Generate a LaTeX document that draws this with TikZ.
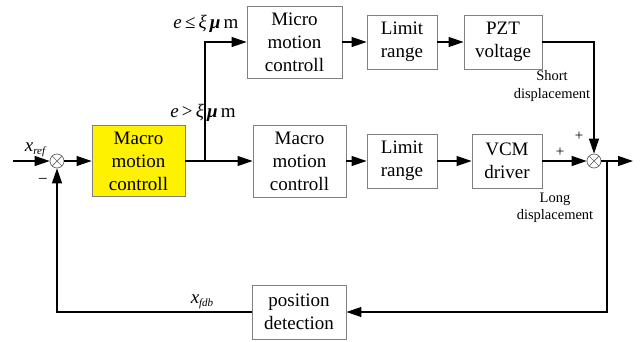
\documentclass[tikz,border=0pt]{standalone}
\usepackage{fontspec}
\setmainfont{Liberation Serif}
\newfontfamily\tnr{Liberation Serif}
\usetikzlibrary{arrows.meta}
\begin{document}
\begin{tikzpicture}[x=1pt,y=-1pt,
  blk/.style={draw=black!50, line width=0.9pt, align=center, inner sep=0pt,
    font=\tnr\fontsize{19}{23}\selectfont},
  sumc/.style={circle, draw=black!60, line width=0.7pt, minimum size=14pt, inner sep=0pt,
    path picture={\draw[black!60, line width=0.7pt]
      (path picture bounding box.north west) -- (path picture bounding box.south east)
      (path picture bounding box.north east) -- (path picture bounding box.south west);}},
  conn/.style={line width=1.2pt, -{Triangle[length=15pt,width=10pt]}},
  lbl/.style={align=center, inner sep=0pt, font=\tnr\fontsize{14.5}{17.5}\selectfont},
  mlbl/.style={inner sep=0pt, font=\tnr\fontsize{19}{21}\selectfont}]
\useasboundingbox (0,0) rectangle (641,341);

% blocks
\node[sumc] (s1) at (57,161) {};
\node[blk, fill=yellow, minimum width=93pt, minimum height=71pt] (macro) at (138.5,161) {Macro\\motion\\controll};
\node[blk, minimum width=95pt, minimum height=72pt] (micro) at (294.5,42) {Micro\\motion\\controll};
\node[blk, minimum width=70pt, minimum height=54pt] (lim1) at (402,42) {Limit\\range};
\node[blk, minimum width=78pt, minimum height=54pt] (pzt) at (503,42) {PZT\\voltage};
\node[blk, minimum width=93pt, minimum height=72pt] (macro2) at (299.5,161) {Macro\\motion\\controll};
\node[blk, minimum width=70pt, minimum height=54pt] (lim2) at (402,161) {Limit\\range};
\node[blk, minimum width=70pt, minimum height=54pt] (vcm) at (507,161) {VCM\\driver};
\node[sumc] (s2) at (594,161) {};
\node[blk, minimum width=94pt, minimum height=54pt] (pos) at (299,312) {position\\detection};

% coordinates
\coordinate (in) at (13,161);
\coordinate (br) at (205,161);
\coordinate (out) at (633,161);
\coordinate (fb) at (607,161);

% connectors
\draw[conn] (in) -- (s1);
\draw[conn] (s1) -- (macro);
\draw[conn] (macro) -- (macro2);
\draw[conn] (br) |- (micro);
\draw[conn] (micro) -- (lim1);
\draw[conn] (lim1) -- (pzt);
\draw[conn] (pzt.east) -| (s2.north);
\draw[conn] (macro2) -- (lim2);
\draw[conn] (lim2) -- (vcm);
\draw[conn] (vcm) -- (s2);
\draw[conn] (s2) -- (out);
\draw[conn] (fb) |- (pos.east);
\draw[conn] (pos.west) -| (s1.south);

% labels
\node[mlbl] (xref) at (35,150) {\itshape x\raisebox{-3pt}{\fontsize{11}{11}\selectfont ref}};
\node[inner sep=0pt, font=\tnr\fontsize{17}{18}\selectfont] (minus) at (43,181) {−};
\node[mlbl] (c1) at (206,24) {\textit{e}\,≤\,\textit{ξ}\,\textbf{\textit{μ}}\,m};
\node[mlbl] (c2) at (203,113) {\textit{e}\,>\,\textit{ξ}\,\textbf{\textit{μ}}\,m};
\node[lbl] (short) at (552,86) {Short\\displacement};
\node[lbl] (long) at (555,208) {Long\\displacement};
\node[inner sep=0pt, font=\tnr\fontsize{15}{16}\selectfont] (p1) at (560,152) {+};
\node[inner sep=0pt, font=\tnr\fontsize{15}{16}\selectfont] (p2) at (579,136) {+};
\node[mlbl] (xfdb) at (202,302) {\itshape x\raisebox{-3pt}{\fontsize{11}{11}\selectfont fdb}};
\end{tikzpicture}
\end{document}
